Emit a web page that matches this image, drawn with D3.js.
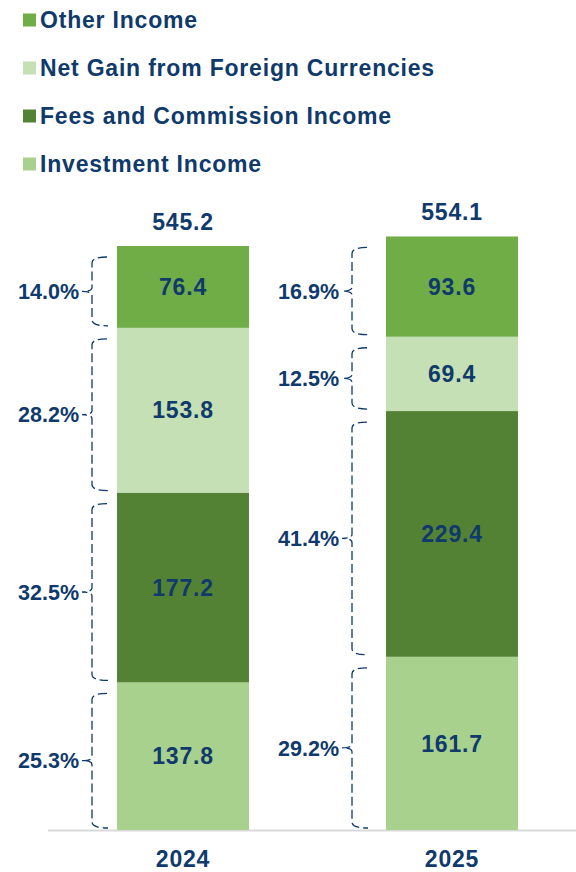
<!DOCTYPE html>
<html><head><meta charset="utf-8">
<script src="https://cdn.jsdelivr.net/npm/d3@7"></script>
<style>body{margin:0;background:#fff}svg{display:block}text{font-family:"Liberation Sans",Arial,sans-serif;font-weight:bold;fill:#0F3A6B}</style>
</head><body><svg id="c" width="576" height="872"></svg>
<script>
const years = ["2024", "2025"];
const seriesNames = ["Investment Income", "Fees and Commission Income", "Net Gain from Foreign Currencies", "Other Income"];
const investment = [137.8, 161.7];
const fees = [177.2, 229.4];
const netGain = [153.8, 69.4];
const other = [76.4, 93.6];
const totals = [545.2, 554.1];
const pctInvestment = ["25.3%", "29.2%"];
const pctFees = ["32.5%", "41.4%"];
const pctNetGain = ["28.2%", "12.5%"];
const pctOther = ["14.0%", "16.9%"];
const colors = ["#A9D18E", "#548235", "#C5E0B4", "#70AD47"];

const values = [investment, fees, netGain, other];
const pcts = [pctInvestment, pctFees, pctNetGain, pctOther];

const svg = d3.select("#c");
const x = d3.scalePoint().domain(years).range([183, 452]);
const y = d3.scaleLinear().domain([0, 600]).range([830, 187.3]);
const barW = 132;
const braceX = {"2024": 92, "2025": 352};

// legend (top to bottom: Other, Net Gain, Fees, Investment)
const legOrder = [3, 2, 1, 0];
const leg = svg.append("g");
legOrder.forEach((si, i) => {
  const cy = 20 + i * 48;
  leg.append("rect").attr("x", 23).attr("y", cy - 6.5).attr("width", 13).attr("height", 13).attr("fill", colors[si]);
  leg.append("text").attr("x", 40).attr("y", cy).attr("dy", "0.36em")
    .style("font-size", "23px").style("letter-spacing", "0.8px").text(seriesNames[si]);
});

// stack
const rows = years.map((yr, i) => {
  const o = {year: yr};
  seriesNames.forEach((s, si) => o[s] = values[si][i]);
  return o;
});
const stack = d3.stack().keys(seriesNames)(rows);

// axis line
svg.append("line").attr("x1", 48).attr("x2", 576).attr("y1", 830.5).attr("y2", 830.5)
  .attr("stroke", "#d9d9d9").attr("stroke-width", 2);

stack.forEach((layer, si) => {
  layer.forEach((d, i) => {
    const yr = years[i];
    const y0 = y(d[0]), y1 = y(d[1]);
    svg.append("rect").attr("x", x(yr) - barW / 2).attr("y", y1).attr("width", barW).attr("height", y0 - y1)
      .attr("fill", colors[si]);
    svg.append("text").attr("x", x(yr)).attr("y", (y0 + y1) / 2).attr("dy", "0.36em")
      .attr("text-anchor", "middle").style("font-size", "23px").style("letter-spacing", "0.8px")
      .text(values[si][i].toFixed(1));
    // brace
    const top = y1 + 11, bot = y0 - 2, mid = (top + bot) / 2, bx = braceX[yr];
    const p = d3.path();
    p.moveTo(bx + 15, top);
    p.quadraticCurveTo(bx, top, bx, top + 6);
    p.lineTo(bx, mid - 4);
    p.quadraticCurveTo(bx, mid, bx - 10, mid);
    p.quadraticCurveTo(bx, mid, bx, mid + 4);
    p.lineTo(bx, bot - 6);
    p.quadraticCurveTo(bx, bot, bx + 16, bot);
    svg.append("path").attr("d", p.toString()).attr("fill", "none").attr("stroke", "#0F3A6B")
      .attr("stroke-width", 1.3).attr("stroke-dasharray", "9,4");
    svg.append("text").attr("x", bx - 13).attr("y", mid).attr("dy", "0.36em").attr("text-anchor", "end")
      .style("font-size", "21.5px").text(pcts[si][i]);
  });
});

// totals
years.forEach((yr, i) => {
  svg.append("text").attr("x", x(yr)).attr("y", y(totals[i]) - 16).attr("text-anchor", "middle")
    .style("font-size", "23px").style("letter-spacing", "0.8px").text(totals[i].toFixed(1));
  svg.append("text").attr("x", x(yr)).attr("y", 867).attr("text-anchor", "middle")
    .style("font-size", "23px").style("letter-spacing", "0.8px").text(yr);
});
</script></body></html>
